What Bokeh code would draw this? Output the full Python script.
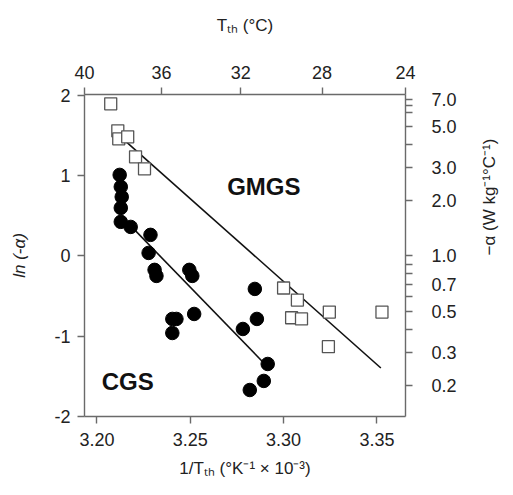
import math
from bokeh.plotting import figure
from bokeh.models import LinearAxis, FixedTicker, CustomJSTickFormatter, Range1d, Label
from bokeh.embed import file_html
from bokeh.resources import INLINE

# ---- data ----
gmgs_x = [3.2074, 3.2112, 3.2117, 3.2165, 3.2207, 3.2255,
          3.3000, 3.3074, 3.3043, 3.3096, 3.3245, 3.3240, 3.3527]
gmgs_y = [1.894, 1.558, 1.458, 1.483, 1.234, 1.084,
          -0.40, -0.55, -0.77, -0.785, -0.70, -1.13, -0.70]

cgs_x = [3.2122, 3.2128, 3.2133, 3.2128, 3.2128, 3.2181, 3.2287, 3.2277,
         3.2309, 3.2319, 3.2495, 3.2511, 3.2404, 3.2426, 3.2404, 3.2521,
         3.2846, 3.2857, 3.2782, 3.2915, 3.2894, 3.2819]
cgs_y = [1.009, 0.860, 0.735, 0.598, 0.424, 0.361, 0.262, 0.037,
         -0.174, -0.249, -0.174, -0.249, -0.785, -0.785, -0.960, -0.723,
         -0.411, -0.785, -0.910, -1.346, -1.557, -1.670]

gmgs_fit_x = [3.2085, 3.3521]
gmgs_fit_y = [1.570, -1.396]
cgs_fit_x = [3.2197, 3.2894]
cgs_fit_y = [0.336, -1.333]

bottom_ticks = [3.20, 3.25, 3.30, 3.35]
left_ticks = [2, 1, 0, -1, -2]
top_ticks_c = [40, 36, 32, 28, 24]
right_major = [7.0, 5.0, 3.0, 2.0, 1.0, 0.7, 0.5, 0.3, 0.2]
right_minor = [6.5, 6.0, 4.0, 0.9, 0.8, 0.6, 0.4]

FONT = "Liberation Sans"
AX = "#6a6a6a"
TXT = "#222222"

x0 = 1000.0 / (40 + 273.15)
x1 = 1000.0 / (24 + 273.15)

p = figure(frame_width=321, frame_height=322,
           x_range=Range1d(x0, x1), y_range=Range1d(-2.0, 2.01),
           output_backend="svg", toolbar_location=None,
           x_axis_location=None, y_axis_location=None,
           min_border_left=84, min_border_right=108,
           min_border_top=94, min_border_bottom=79)
p.xgrid.visible = False
p.ygrid.visible = False
p.outline_line_color = None
p.background_fill_color = "white"
p.border_fill_color = "white"

bottom_axis = LinearAxis(
    ticker=FixedTicker(ticks=bottom_ticks, minor_ticks=[]),
    formatter=CustomJSTickFormatter(code="return tick.toFixed(2);"),
    axis_label="1/Tₜₕ (°K⁻¹ × 10⁻³)")
left_axis = LinearAxis(
    ticker=FixedTicker(ticks=left_ticks, minor_ticks=[]),
    formatter=CustomJSTickFormatter(code="return Math.round(tick).toString();"),
    axis_label="ln (-α)")
top_axis = LinearAxis(
    ticker=FixedTicker(ticks=[1000.0 / (t + 273.15) for t in top_ticks_c], minor_ticks=[]),
    formatter=CustomJSTickFormatter(code="return Math.round(1000/tick - 273.15).toString();"),
    axis_label="Tₜₕ (°C)")
right_axis = LinearAxis(
    ticker=FixedTicker(ticks=[math.log(v) for v in right_major],
                       minor_ticks=[math.log(v) for v in right_minor]),
    formatter=CustomJSTickFormatter(code="return Math.exp(tick).toFixed(1);"),
    axis_label="−α (W kg⁻¹°C⁻¹)")
p.add_layout(bottom_axis, "below")
p.add_layout(left_axis, "left")
p.add_layout(top_axis, "above")
p.add_layout(right_axis, "right")

for ax in [bottom_axis, left_axis, top_axis, right_axis]:
    ax.axis_line_color = AX
    ax.axis_line_width = 1.4
    ax.major_tick_line_color = AX
    ax.major_tick_line_width = 1.4
    ax.major_tick_in = 0
    ax.major_tick_out = 7
    ax.minor_tick_line_color = AX
    ax.minor_tick_line_width = 1.4
    ax.minor_tick_in = 0
    ax.minor_tick_out = 7
    ax.major_label_text_font = FONT
    ax.major_label_text_font_size = "18px"
    ax.major_label_text_color = TXT
    ax.axis_label_text_font = FONT
    ax.axis_label_text_font_size = "17px"
    ax.axis_label_text_font_style = "normal"
    ax.axis_label_text_color = TXT

left_axis.axis_label_text_font_style = "italic"
left_axis.major_label_standoff = 7
left_axis.axis_label_standoff = 22
right_axis.major_label_standoff = 19
right_axis.axis_label_standoff = 30
top_axis.major_label_standoff = 9
top_axis.axis_label_standoff = 28
bottom_axis.major_label_standoff = 9
bottom_axis.axis_label_standoff = 10
if "axis_label_orientation" in right_axis.properties():
    right_axis.axis_label_orientation = math.pi / 2

p.line(gmgs_fit_x, gmgs_fit_y, line_color="#111111", line_width=1.6)
p.line(cgs_fit_x, cgs_fit_y, line_color="#111111", line_width=1.6)
p.scatter(gmgs_x, gmgs_y, marker="square", size=12, fill_color="white",
          line_color="#555555", line_width=1.3)
p.scatter(cgs_x, cgs_y, marker="circle", size=13.5, fill_color="black",
          line_color="black")

p.add_layout(Label(x=3.2894, y=0.86, text="GMGS", text_font=FONT,
                   text_font_size="24px", text_font_style="bold",
                   text_align="center", text_baseline="middle", text_color="#111111"))
p.add_layout(Label(x=3.2165, y=-1.56, text="CGS", text_font=FONT,
                   text_font_size="24px", text_font_style="bold",
                   text_align="center", text_baseline="middle", text_color="#111111"))

open("out.html", "w").write(file_html(p, INLINE))
